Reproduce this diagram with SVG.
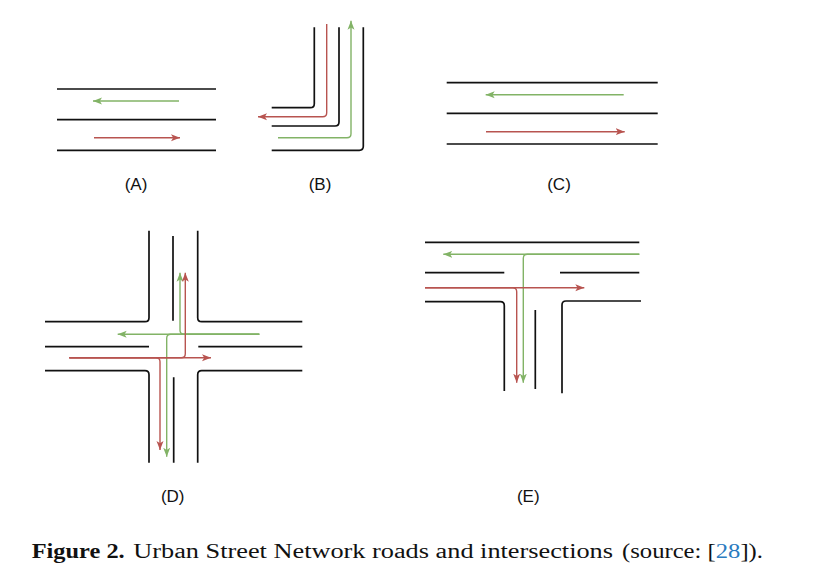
<svg xmlns="http://www.w3.org/2000/svg" width="816" height="584" viewBox="0 0 816 584">
<style>
.road{fill:none;stroke:#111;stroke-width:1.7;stroke-linecap:butt}
.red{fill:none;stroke:#b85450;stroke-width:1.4}
.green{fill:none;stroke:#82b366;stroke-width:1.4}
.lbl{font-family:"Liberation Sans",Arial,sans-serif;font-size:17px;fill:#111;text-anchor:middle}
.cap{font-family:"Liberation Serif","Times New Roman",serif;font-size:20px;fill:#111}
</style>
<defs>
<marker id="ar" markerUnits="userSpaceOnUse" markerWidth="10" markerHeight="8" refX="9" refY="4" orient="auto">
<path d="M0,0.5 L9,4 L0,7.5 L2.2,4 Z" fill="#b85450"/>
</marker>
<marker id="ag" markerUnits="userSpaceOnUse" markerWidth="10" markerHeight="8" refX="9" refY="4" orient="auto">
<path d="M0,0.5 L9,4 L0,7.5 L2.2,4 Z" fill="#82b366"/>
</marker>
</defs>
<rect width="816" height="584" fill="#fff"/>

<g id="A">
<path class="road" d="M57,89H216M57,119.7H216M57,150.3H216"/>
<path class="green" d="M179,101H93" marker-end="url(#ag)"/>
<path class="red" d="M94,137.7H180" marker-end="url(#ar)"/>
<text class="lbl" x="136" y="189.5">(A)</text>
</g>

<g id="B">
<path class="road" d="M314.3,27.3V103.7Q314.3,107.7 310.3,107.7H271.7"/>
<path class="road" d="M339,27.3V122Q339,126 335,126H271.7"/>
<path class="road" d="M363.3,27.3V146.3Q363.3,150.3 359.3,150.3H271.7"/>
<path class="red" d="M326.7,24V112.7Q326.7,116.7 322.7,116.7H258" marker-end="url(#ar)"/>
<path class="green" d="M278,137.7H347Q351,137.7 351,133.7V20.7" marker-end="url(#ag)"/>
<text class="lbl" x="320" y="189.5">(B)</text>
</g>

<g id="C">
<path class="road" d="M446.7,82.7H657.7M446.7,113.3H657.7M446.7,144H657.7"/>
<path class="green" d="M623.7,94.7H485.7" marker-end="url(#ag)"/>
<path class="red" d="M486,131.7H624.7" marker-end="url(#ar)"/>
<text class="lbl" x="559" y="189.5">(C)</text>
</g>

<g id="D">
<path class="road" d="M149,230.7V317.7Q149,321.7 145,321.7H45"/>
<path class="road" d="M197.7,230.7V317.7Q197.7,321.7 201.7,321.7H302.3"/>
<path class="road" d="M45,370.7H145Q149,370.7 149,374.7V462.7"/>
<path class="road" d="M302.3,370.7H201.7Q197.7,370.7 197.7,374.7V462.7"/>
<path class="road" d="M173,236V320.7M173.7,377.3V462.7M45,346.7H149M198.3,346.7H302.3"/>
<g id="D-flows">
<path class="green" d="M259.3,334.3H117.7" marker-end="url(#ag)"/>
<path class="green" d="M259.3,334.3H184Q180,334.3 180,330.3V272.7" marker-end="url(#ag)"/>
<path class="green" d="M259.3,334.3H170.7Q166.7,334.3 166.7,338.3V456.7" marker-end="url(#ag)"/>
<path class="red" d="M69.3,357.7H211" marker-end="url(#ar)"/>
<path class="red" d="M69.3,357.7H181.3Q185.3,357.7 185.3,353.7V272.7" marker-end="url(#ar)"/>
<path class="red" d="M69.3,357.7H156Q160,357.7 160,361.7V450" marker-end="url(#ar)"/>
</g>
<text class="lbl" x="172.7" y="501.5">(D)</text>
</g>

<g id="E">
<path class="road" d="M425,242.3H639.3M425,272.7H504.3M560,272.7H639.3"/>
<path class="road" d="M425,301.7H500.3Q504.3,301.7 504.3,305.7V391"/>
<path class="road" d="M641,301H566Q562,301 562,305V393.3"/>
<path class="road" d="M535.3,310V389"/>
<g id="E-flows">
<path class="green" d="M639.3,254.3H443.3" marker-end="url(#ag)"/>
<path class="green" d="M639.3,254.3H527.3Q523.3,254.3 523.3,258.3V382.7" marker-end="url(#ag)"/>
<path class="red" d="M425,287.7H584.3" marker-end="url(#ar)"/>
<path class="red" d="M425,287.7H512.7Q516.7,287.7 516.7,291.7V382.7" marker-end="url(#ar)"/>
</g>
<text class="lbl" x="528.3" y="501.5">(E)</text>
</g>

<g id="caption">
<text class="cap" x="31.7" y="557.7" font-weight="bold" textLength="93" lengthAdjust="spacingAndGlyphs">Figure 2.</text>
<text class="cap" x="133.3" y="557.7" textLength="479.7" lengthAdjust="spacingAndGlyphs">Urban Street Network roads and intersections</text>
<text class="cap" x="622" y="557.7" textLength="141" lengthAdjust="spacingAndGlyphs">(source: [<tspan fill="#2a7bbf">28</tspan>]).</text>
</g>
</svg>
